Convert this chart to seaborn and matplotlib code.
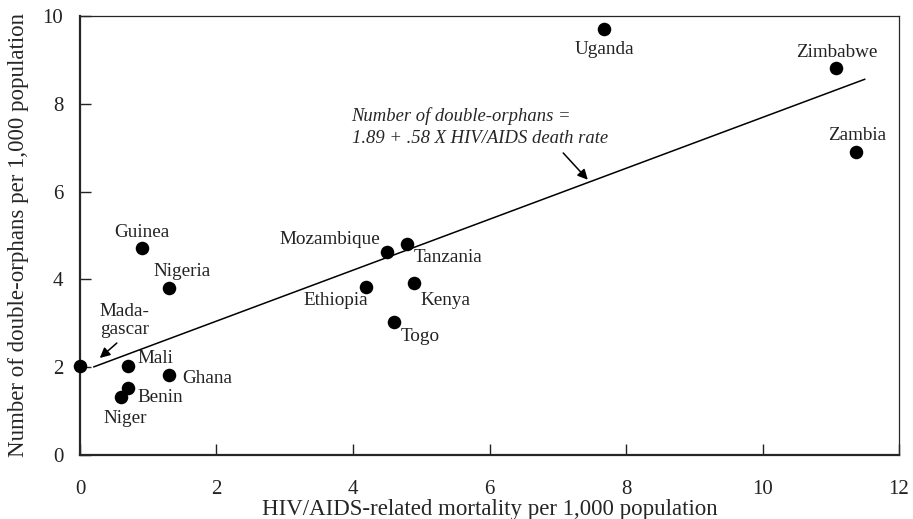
import pandas as pd
import matplotlib.pyplot as plt
import seaborn as sns

# Data
countries = ["Uganda", "Zimbabwe", "Zambia", "Guinea", "Nigeria", "Mozambique",
             "Tanzania", "Ethiopia", "Kenya", "Togo", "Madagascar", "Mali",
             "Ghana", "Benin", "Niger"]
mortality = [7.68, 11.08, 11.37, 0.91, 1.30, 4.50, 4.79, 4.19, 4.89, 4.60,
             0.00, 0.70, 1.30, 0.70, 0.60]
orphans = [9.70, 8.81, 6.90, 4.72, 3.80, 4.62, 4.81, 3.83, 3.92, 3.03,
           2.03, 2.03, 1.82, 1.53, 1.32]

# label positions (data coords) and alignment
label_x = [7.68, 11.09, 11.38, 0.91, 1.49, 4.40, 5.39, 3.75, 5.36, 4.98,
           0.65, 1.10, 1.86, 1.17, 0.67]
label_y = [9.23, 9.16, 7.27, 5.06, 4.17, 4.90, 4.49, 3.53, 3.53, 2.69,
           3.06, 2.19, 1.75, 1.32, 0.84]
label_text = ["Uganda", "Zimbabwe", "Zambia", "Guinea", "Nigeria", "Mozambique",
              "Tanzania", "Ethiopia", "Kenya", "Togo", "Mada-\ngascar", "Mali",
              "Ghana", "Benin", "Niger"]
label_ha = ["center", "center", "center", "center", "center", "right",
            "center", "center", "center", "center", "center", "center",
            "center", "center", "center"]

intercept = 1.89
slope = 0.58
fit_x = [0.2, 11.5]

df = pd.DataFrame({"country": countries, "mortality": mortality, "orphans": orphans})

sns.set_style("ticks")
plt.rcParams["font.family"] = ["Liberation Serif", "DejaVu Serif"]

fig = plt.figure(figsize=(9.13, 5.19), dpi=100)
ax = fig.add_axes([0.0876, 0.1233, 0.8971, 0.8459])

sns.scatterplot(data=df, x="mortality", y="orphans", color="black", s=95,
                edgecolor="black", linewidth=0, zorder=5, clip_on=False, ax=ax)

fit_y = [intercept + slope * v for v in fit_x]
ax.plot(fit_x, fit_y, color="black", linewidth=1.1)

for tx, ty, t, ha in zip(label_x, label_y, label_text, label_ha):
    ax.text(tx, ty, t, ha=ha, va="center", fontsize=13.8, color="#222222",
            linespacing=1.1)

ax.text(3.98, 7.48, "Number of double-orphans =\n1.89 + .58 X HIV/AIDS death rate",
        ha="left", va="center", fontsize=13.4, style="italic", linespacing=1.38)
ax.annotate("", xy=(7.44, 6.27), xytext=(7.08, 6.88),
            arrowprops=dict(arrowstyle="-|>", color="black", lw=1.1,
                            mutation_scale=15, shrinkA=0, shrinkB=0))
ax.annotate("", xy=(0.29, 2.21), xytext=(0.54, 2.55),
            arrowprops=dict(arrowstyle="-|>", color="black", lw=1.1,
                            mutation_scale=15, shrinkA=0, shrinkB=0))

ax.set_xlim(0, 12)
ax.set_ylim(0, 10)
ax.set_xticks([0, 2, 4, 6, 8, 10, 12])
ax.set_yticks([0, 2, 4, 6, 8, 10])
ax.set_xlabel("HIV/AIDS-related mortality per 1,000 population", fontsize=16.5,
              labelpad=0)
ax.set_ylabel("Number of double-orphans per 1,000 population", fontsize=16.5,
              labelpad=10)
ax.tick_params(direction="in", length=8, width=1, labelsize=15, colors="#222222")
ax.tick_params(axis="x", pad=18)
ax.tick_params(axis="y", pad=12)

for side in ["bottom", "left"]:
    ax.spines[side].set_linewidth(1.6)
for side in ["top", "right"]:
    ax.spines[side].set_linewidth(0.9)
    ax.spines[side].set_visible(True)

plt.savefig("out.png", dpi=100)
plt.close()
